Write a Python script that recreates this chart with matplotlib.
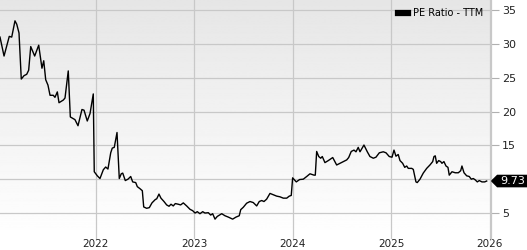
import numpy as np
import matplotlib
matplotlib.use("Agg")
import matplotlib.pyplot as plt
from matplotlib.patches import Polygon

# PE ratio (TTM); x is decimal year
years = [
    2021.028, 2021.069, 2021.122, 2021.147, 2021.180, 2021.198, 2021.221, 2021.244,
    2021.272, 2021.299, 2021.319, 2021.340, 2021.380, 2021.421, 2021.454, 2021.472,
    2021.492, 2021.515, 2021.536, 2021.569, 2021.586, 2021.610, 2021.627, 2021.671,
    2021.688, 2021.721, 2021.742, 2021.766, 2021.789, 2021.820, 2021.860, 2021.881,
    2021.914, 2021.942, 2021.975, 2021.985, 2022.016, 2022.043, 2022.077, 2022.101,
    2022.124, 2022.152, 2022.168, 2022.188, 2022.216, 2022.239, 2022.259, 2022.274,
    2022.300, 2022.327, 2022.355, 2022.375, 2022.406, 2022.422, 2022.449, 2022.473,
    2022.487, 2022.517, 2022.544, 2022.571, 2022.605, 2022.619, 2022.642, 2022.662,
    2022.693, 2022.720, 2022.744, 2022.764, 2022.787, 2022.808, 2022.838, 2022.862,
    2022.889, 2022.923, 2022.957, 2022.984, 2023.008, 2023.031, 2023.058, 2023.086,
    2023.109, 2023.143, 2023.167, 2023.187, 2023.211, 2023.234, 2023.279, 2023.312,
    2023.346, 2023.390, 2023.424, 2023.457, 2023.472, 2023.498, 2023.532, 2023.566,
    2023.599, 2023.634, 2023.660, 2023.685, 2023.708, 2023.735, 2023.769, 2023.802,
    2023.837, 2023.870, 2023.904, 2023.939, 2023.965, 2023.985, 2023.999, 2024.036,
    2024.070, 2024.107, 2024.142, 2024.175, 2024.216, 2024.229, 2024.243, 2024.264,
    2024.284, 2024.300, 2024.327, 2024.361, 2024.406, 2024.446, 2024.480, 2024.513,
    2024.548, 2024.568, 2024.594, 2024.622, 2024.642, 2024.665, 2024.683, 2024.723,
    2024.757, 2024.784, 2024.818, 2024.845, 2024.879, 2024.919, 2024.947, 2024.980,
    2025.008, 2025.028, 2025.048, 2025.071, 2025.089, 2025.116, 2025.137, 2025.157,
    2025.173, 2025.208, 2025.224, 2025.251, 2025.264, 2025.292, 2025.325, 2025.360,
    2025.393, 2025.421, 2025.434, 2025.447, 2025.461, 2025.482, 2025.502, 2025.515,
    2025.535, 2025.556, 2025.576, 2025.589, 2025.617, 2025.650, 2025.681, 2025.705,
    2025.718, 2025.739, 2025.766, 2025.792, 2025.813, 2025.833, 2025.853, 2025.874,
    2025.894, 2025.921, 2025.949, 2025.969,
]
pe_ratio = [
    31.0, 28.2, 31.1, 31.0, 33.4, 32.9, 31.6, 24.8,
    25.3, 25.5, 26.1, 29.6, 28.2, 29.8, 26.4, 27.5,
    24.7, 23.9, 22.4, 22.4, 22.1, 22.9, 21.3, 21.7,
    22.0, 26.0, 19.2, 19.0, 18.8, 17.9, 20.3, 20.2,
    18.6, 19.7, 22.6, 11.1, 10.5, 10.1, 11.4, 11.8,
    11.5, 13.9, 14.6, 14.7, 16.9, 10.1, 10.8, 10.9,
    9.8, 10.0, 10.4, 9.6, 9.5, 8.9, 8.6, 8.3,
    5.9, 5.7, 5.8, 6.5, 7.0, 7.1, 7.8, 7.2,
    6.7, 6.2, 6.0, 6.3, 6.05, 6.4, 6.3, 6.2,
    6.5, 6.05, 5.55, 5.35, 5.0, 5.2, 4.9, 5.2,
    5.0, 5.05, 4.7, 4.9, 4.1, 4.5, 4.9, 4.6,
    4.4, 4.1, 4.4, 4.6, 5.5, 5.85, 6.45, 6.7,
    6.55, 6.05, 6.7, 6.85, 6.7, 7.05, 7.9, 7.7,
    7.5, 7.4, 7.2, 7.2, 7.5, 7.6, 10.2, 9.6,
    9.95, 10.0, 10.4, 10.8, 10.6, 10.6, 14.1, 13.35,
    13.1, 13.35, 12.45, 12.75, 13.2, 12.1, 12.35, 12.6,
    12.85, 13.2, 14.1, 14.3, 14.05, 14.7, 14.05, 15.05,
    14.05, 13.35, 13.1, 13.25, 13.9, 14.05, 13.9, 13.35,
    13.25, 14.3, 13.4, 13.65, 12.75, 12.35, 11.75, 11.95,
    11.6, 11.6, 11.45, 9.6, 9.5, 10.0, 10.9, 11.6,
    12.1, 12.6, 13.35, 13.45, 12.35, 12.75, 12.6, 12.35,
    12.6, 11.95, 11.75, 10.6, 11.1, 10.95, 10.95, 11.25,
    11.95, 10.95, 10.5, 10.4, 10.0, 10.1, 9.9, 9.6,
    9.8, 9.6, 9.6, 9.73,
]
last_value = 9.73
y_ticks = [5, 10, 15, 20, 25, 30, 35]
x_ticks = [2022, 2023, 2024, 2025, 2026]

fig = plt.figure(figsize=(5.27, 2.5), dpi=100)
ax = fig.add_axes([0.0, 0.045, 0.9317, 0.955])

# light grey (top) to white (bottom) gradient behind the data
grad = np.linspace(0.90, 1.0, 256).reshape(-1, 1)
ax.imshow(grad, cmap="gray", vmin=0, vmax=1, aspect="auto", origin="upper",
          extent=[0, 1, 0, 1], transform=ax.transAxes, zorder=0)

ax.plot(years, pe_ratio, color="black", linewidth=1.0, zorder=3,
        label="PE Ratio - TTM")

ax.set_xlim(2021.028, 2026.013)
ax.set_ylim(1.2, 36.48)
ax.set_xticks(x_ticks)
ax.set_xticklabels([str(t) for t in x_ticks])
ax.set_yticks(y_ticks)
# the 10 label sits under the value tag
ax.set_yticklabels(["" if t == 10 else str(t) for t in y_ticks])

ax.yaxis.tick_right()
ax.tick_params(axis="y", length=6, width=0.8, color="#b0b0b0", pad=2,
               labelsize=8, labelcolor="#222222")
ax.tick_params(axis="x", length=0, pad=0.5, labelsize=7.5, labelcolor="#222222")
ax.grid(True, color="#c8c8c8", linewidth=0.9, zorder=1)
ax.set_axisbelow(True)

for side in ["left", "top", "bottom"]:
    ax.spines[side].set_visible(False)
ax.spines["right"].set_color("#c8c8c8")
ax.spines["right"].set_linewidth(0.9)

leg = ax.legend(loc="upper right", frameon=False, fontsize=7,
                handlelength=1.0, handleheight=0.5, borderaxespad=0.4,
                handletextpad=0.5)
for h in leg.legend_handles:
    h.set_linewidth(4.5)

# value tag for the last point
trans = ax.get_yaxis_transform()
h = 0.83
tag = Polygon([(1.0015, last_value), (1.013, last_value + h), (1.075, last_value + h),
               (1.075, last_value - h), (1.013, last_value - h)],
              closed=True, facecolor="black", edgecolor="black",
              transform=trans, clip_on=False, zorder=10)
ax.add_patch(tag)
ax.text(1.044, last_value, f"{last_value:.2f}", color="white", fontsize=8,
        ha="center", va="center", transform=trans, zorder=11, clip_on=False)

fig.savefig("out.png", dpi=100)
